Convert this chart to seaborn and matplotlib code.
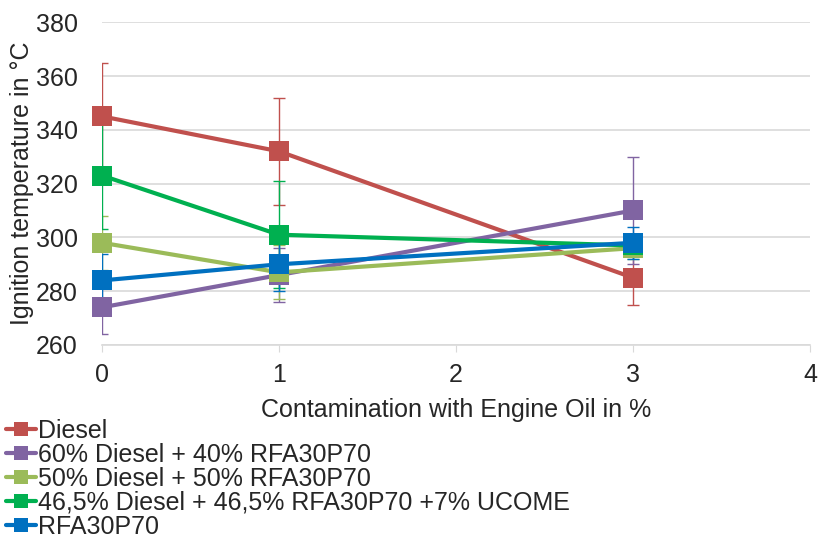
import seaborn as sns
import matplotlib.pyplot as plt
import pandas as pd
from matplotlib.lines import Line2D

sns.set_style("white")
plt.rcParams['font.family'] = ['Liberation Sans', 'DejaVu Sans']

# data
contamination = [0, 1, 3]
series_names = ["Diesel",
                "60% Diesel + 40% RFA30P70",
                "50% Diesel + 50% RFA30P70",
                "46,5% Diesel + 46,5% RFA30P70 +7% UCOME",
                "RFA30P70"]
diesel = [345, 332, 285]
diesel_err = [20, 20, 10]
d60 = [274, 286, 310]
d60_err = [10, 10, 20]
d50 = [298, 287, 296]
d50_err = [10, 10, 4]
d465 = [323, 301, 297]
d465_err = [20, 20, 4]
rfa = [284, 290, 298]
rfa_err = [10, 10, 6]
colors = ["#C0504D", "#8064A2", "#9BBB59", "#00B050", "#0070C0"]

values = [diesel, d60, d50, d465, rfa]
errors = [diesel_err, d60_err, d50_err, d465_err, rfa_err]

rows = []
for name, vals in zip(series_names, values):
    for x, v in zip(contamination, vals):
        rows.append({"x": x, "T": v, "series": name})
df = pd.DataFrame(rows)

fig = plt.figure(figsize=(8.18, 5.42), dpi=100)
ax = fig.add_axes([0.1247, 0.3635, 0.8655, 0.5955])

for name, vals, err, c in zip(series_names, values, errors, colors):
    ax.errorbar(contamination, vals, yerr=err, fmt="none", ecolor=c,
                elinewidth=1, capsize=4, capthick=1, zorder=2)

sns.lineplot(data=df, x="x", y="T", hue="series", hue_order=series_names,
             palette=colors, style="series", markers={s: "s" for s in series_names},
             dashes=False, linewidth=3, markersize=15, markeredgewidth=0,
             ax=ax, legend=False, zorder=3, clip_on=False)

ax.set_xlim(0, 4)
ax.set_ylim(260, 380)
ax.set_xticks([0, 1, 2, 3, 4])
ax.set_yticks(range(260, 381, 20))
ax.grid(axis="y", color="#D9D9D9", linewidth=1.2)
for s in ["top", "right", "left"]:
    ax.spines[s].set_visible(False)
ax.spines["bottom"].set_color("#D9D9D9")
ax.spines["bottom"].set_linewidth(1.2)
ax.tick_params(axis="x", bottom=True, length=5, color="#D9D9D9", labelsize=18, pad=8)
ax.tick_params(axis="y", left=False, labelsize=18, pad=14)
ax.set_xlabel("Contamination with Engine Oil in %", fontsize=18, labelpad=8)
ax.set_ylabel("Ignition temperature in °C", fontsize=18, labelpad=1)

handles = [Line2D([0], [0], color=c, linewidth=3, marker="s", markersize=10,
                  markeredgewidth=0) for c in colors]
fig.legend(handles, series_names, loc="lower left", bbox_to_anchor=(-0.005, -0.012),
           frameon=False, fontsize=18, handlelength=1.2, handletextpad=0.1,
           labelspacing=0.0, borderaxespad=0)

fig.savefig("out.png", dpi=100)
plt.close(fig)
